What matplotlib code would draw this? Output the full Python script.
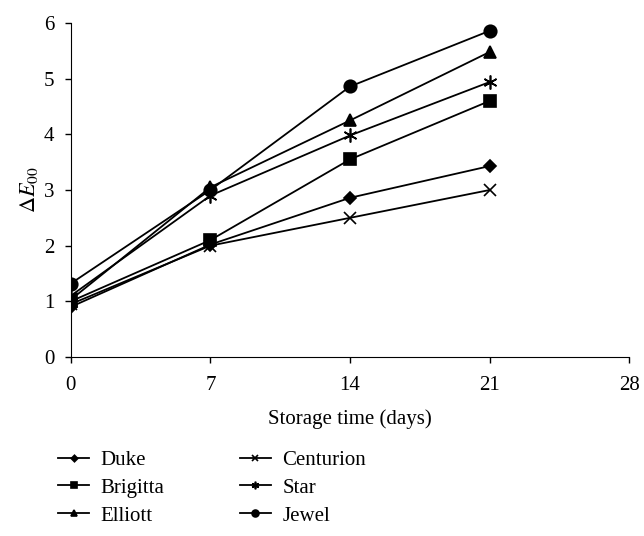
import numpy as np
import matplotlib
matplotlib.use("Agg")
import matplotlib.pyplot as plt

plt.rcParams['font.family'] = ['Liberation Serif', 'DejaVu Serif']
plt.rcParams['mathtext.fontset'] = 'stix'

# --- DATA ---
days = [0, 7, 14, 21]
cultivars = ['Duke', 'Brigitta', 'Elliott', 'Centurion', 'Star', 'Jewel']
duke = [0.90, 2.02, 2.86, 3.43]
brigitta = [1.00, 2.10, 3.55, 4.60]
elliott = [1.03, 3.05, 4.25, 5.48]
centurion = [0.95, 2.00, 2.50, 3.00]
star = [1.10, 2.90, 3.98, 4.94]
jewel = [1.32, 3.00, 4.86, 5.86]
xticks = [0, 7, 14, 21, 28]
yticks = [0, 1, 2, 3, 4, 5, 6]

series = [duke, brigitta, elliott, centurion, star, jewel]
markers = ['D', 's', '^', 'x', (6, 2, 0), 'o']
msizes = [6, 8, 9, 8, 10, 9]

fig = plt.figure(figsize=(6.44, 5.36), dpi=100)
ax = fig.add_axes([0.110, 0.334, 0.867, 0.623])

for name, vals, m, ms in zip(cultivars, series, markers, msizes):
    ax.plot(days, vals, color='black', lw=1.3, marker=m, markersize=ms,
            markeredgewidth=1.2, label=name)

ax.set_xlim(0, 28)
ax.set_ylim(0, 6)
ax.set_xticks(xticks)
ax.set_yticks(yticks)
ax.spines['top'].set_visible(False)
ax.spines['right'].set_visible(False)
ax.tick_params(direction='out', labelsize=15, length=4, width=1)
ax.tick_params(axis='x', pad=10)
ax.tick_params(axis='y', pad=8)
ax.set_xlabel('Storage time (days)', fontsize=15, labelpad=10)
ax.set_ylabel(r'$\Delta E_{00}$', fontsize=16, labelpad=3)

handles, labels = ax.get_legend_handles_labels()
fig.legend(handles, labels, loc='upper left', bbox_to_anchor=(0.09, 0.16),
           ncol=2, frameon=False, fontsize=15, markerscale=0.55,
           handlelength=1.5, handletextpad=0.55, columnspacing=3.6,
           labelspacing=0.4, borderaxespad=0, borderpad=0)

fig.savefig('out.png', dpi=100)
